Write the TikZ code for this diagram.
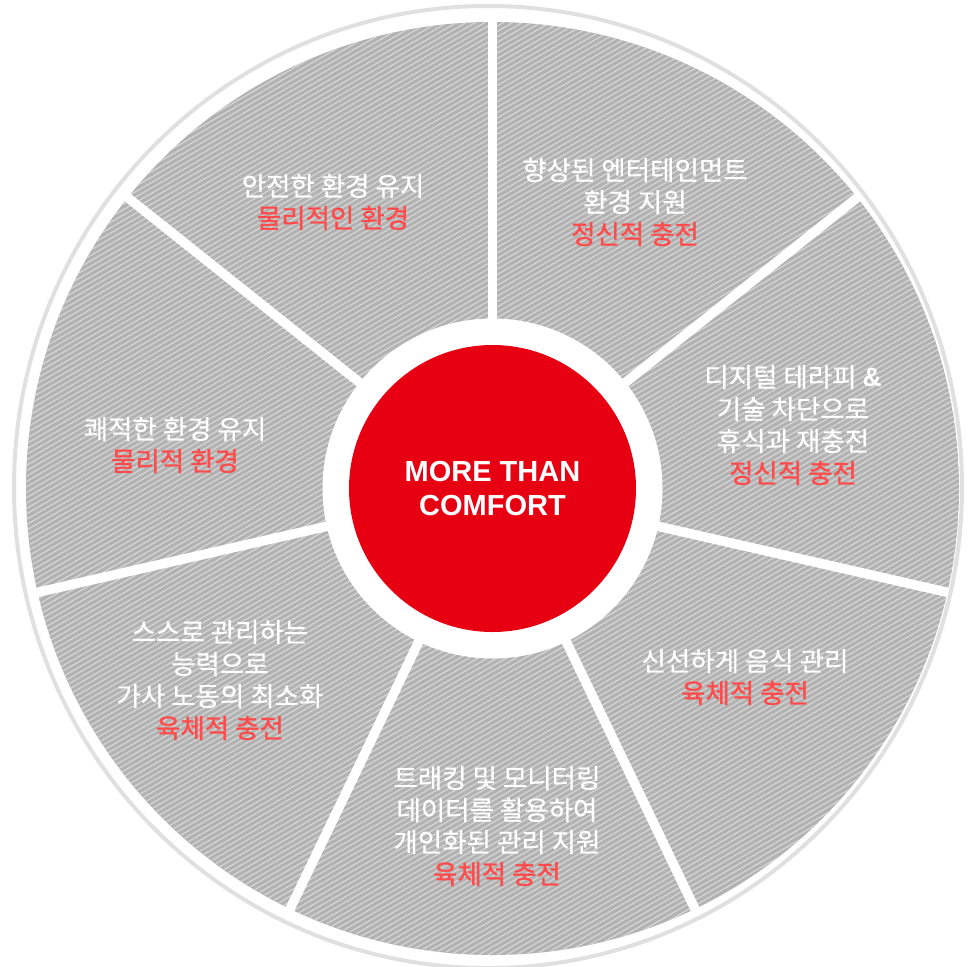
\documentclass[tikz,border=0pt]{standalone}
\usepackage{fontspec}
\newfontfamily\kr[FakeBold=0.5]{Noto Sans CJK KR}
\newfontfamily\krr[FakeBold=1.2]{Noto Sans CJK KR}
\newfontfamily\ar{Liberation Sans}
\definecolor{hatchbg}{HTML}{B2B2B2}
\definecolor{hatchln}{HTML}{D4D4D4}
\definecolor{ringc}{HTML}{E0E0E0}
\definecolor{corered}{HTML}{E60012}
\definecolor{accent}{HTML}{FF4B4B}
\newcommand{\acc}[1]{{\krr\color{accent}#1}}
\begin{document}
\begin{tikzpicture}[x=1pt,y=-1pt,
  seglabel/.style={text=white, align=center, font=\kr\fontsize{26.5}{32}\selectfont, inner sep=0pt},
  divider/.style={white, line width=9.5pt},
  hatch/.style={hatchln, line width=1.3pt},
  corestyle/.style={circle, fill=corered, minimum size=287pt, inner sep=0pt, text=white, align=center, font=\ar\bfseries\fontsize{29}{34}\selectfont},
]
\useasboundingbox (0,0) rectangle (976,966);
\coordinate (O) at (492.5,488.5);
% outer light ring
\draw[ringc, line width=4pt] (488,487) ellipse [x radius=474, y radius=481];
% hatched disk
\begin{scope}
  \clip (O) circle [radius=466.5];
  \fill[hatchbg] (O) circle [radius=467];
  \foreach \c in {0,5.4,...,1530} \draw[hatch] (0,\c) -- (976,\c-563.5);
\end{scope}
% dividers
\foreach \k in {0,...,6} \draw[divider] (O) -- ++({-90+\k*360/7}:467);
% white disk and red core
\fill[white] (O) circle [radius=170];
\node[corestyle] (core) at (O) {MORE THAN\\COMFORT};
% labels
\node[seglabel] (s1) at (333,202) {안전한 환경 유지\\\acc{물리적인 환경}};
\node[seglabel] (s2) at (635,202) {향상된 엔터테인먼트\\환경 지원\\\acc{정신적 충전}};
\node[seglabel] (s3) at (793,425) {디지털 테라피 {\ar\bfseries\&}\\기술 차단으로\\휴식과 재충전\\\acc{정신적 충전}};
\node[seglabel] (s4) at (745,677) {신선하게 음식 관리\\\acc{육체적 충전}};
\node[seglabel] (s5) at (497,826) {트래킹 및 모니터링\\데이터를 활용하여\\개인화된 관리 지원\\\acc{육체적 충전}};
\node[seglabel] (s6) at (220,680) {스스로 관리하는\\능력으로\\가사 노동의 최소화\\\acc{육체적 충전}};
\node[seglabel] (s7) at (175,445) {쾌적한 환경 유지\\\acc{물리적 환경}};
\end{tikzpicture}
\end{document}
